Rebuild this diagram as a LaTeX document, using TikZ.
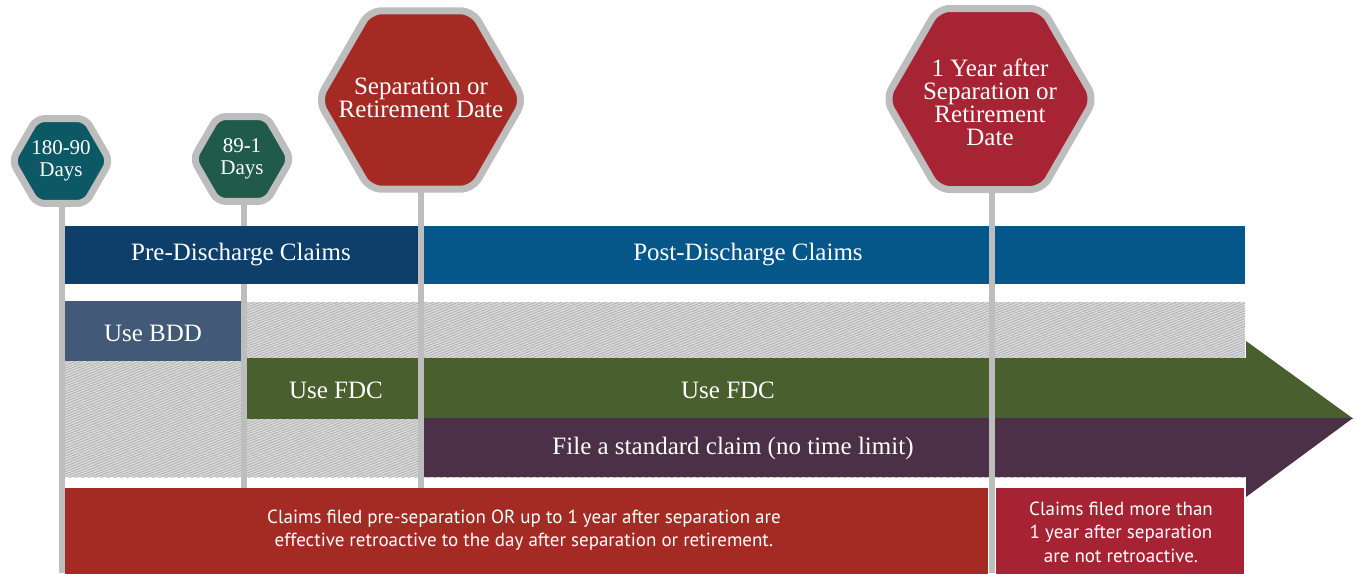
\documentclass[tikz,border=0pt]{standalone}
\usepackage{fontspec}
\setmainfont{Liberation Serif}
\newfontfamily\sansf{PT Sans}
\usetikzlibrary{shapes.geometric,patterns.meta}
\definecolor{lineg}{HTML}{BDBDBD}
\definecolor{hexteal}{HTML}{0C5864}
\definecolor{hexgreen}{HTML}{1F5A4B}
\definecolor{hexred}{HTML}{A42A23}
\definecolor{hexcrim}{HTML}{A62433}
\definecolor{prenavy}{HTML}{0E3E6A}
\definecolor{postblue}{HTML}{05578A}
\definecolor{bddblue}{HTML}{435978}
\definecolor{fdcgreen}{HTML}{4A5F2E}
\definecolor{stdpurple}{HTML}{4B3048}
\definecolor{redA}{HTML}{A32B24}
\definecolor{redB}{HTML}{A52332}
\definecolor{hatchbg}{HTML}{DADADA}
\definecolor{hatchln}{HTML}{ABABAB}
\begin{document}
\begin{tikzpicture}[x=1pt,y=-1pt,
  hexa/.style={regular polygon, regular polygon sides=6, draw=lineg, line width=7pt, rounded corners=12pt, inner sep=0pt},
  hexsmall/.style={hexa, rounded corners=8pt, minimum size=98pt},
  hextxt/.style={text=white, align=center, inner sep=0pt, font=\fontsize{25}{23}\selectfont},
  hextxts/.style={text=white, align=center, inner sep=0pt, font=\fontsize{21}{22}\selectfont},
  bar/.style={rectangle, inner sep=0pt, draw=none, anchor=north west},
  lbl/.style={text=white, inner sep=0pt, font=\fontsize{25}{27}\selectfont},
  slbl/.style={text=white, inner sep=0pt, align=center, font=\sansf\fontsize{19}{23.5}\selectfont},
  post/.style={draw=lineg, line width=6pt},
  hatch/.style={bar, fill=hatchbg, postaction={pattern={Lines[angle=22,distance=2.4pt,line width=0.7pt]}, pattern color=hatchln}}
]
\useasboundingbox (0,0) rectangle (1356,573);
% hatched background
\node[hatch, minimum width=1180pt, minimum height=175pt] (hatchA) at (65,302) {};
% coordinates for line ends
\coordinate (c1t) at (62,161);   \coordinate (c1b) at (62,573);
\coordinate (c2t) at (244,159);  \coordinate (c2b) at (244,488);
\coordinate (c3t) at (421,100);  \coordinate (c3b) at (421,488);
\coordinate (c4t) at (992,99);   \coordinate (c4b) at (992,573);
\draw[post] (c1t) -- (c1b);
\draw[post] (c2t) -- (c2b);
\draw[post] (c3t) -- (c3b);
% header bars
\node[bar, fill=prenavy, minimum width=353pt, minimum height=58pt] (pre) at (65,226) {};
\node[bar, fill=postblue, minimum width=821pt, minimum height=58pt] (postbar) at (424,226) {};
\node[lbl] (preL) at (241,254.5) {Pre-Discharge Claims};
\node[lbl] (postL) at (748,254.5) {Post-Discharge Claims};
% BDD and FDC
\node[bar, fill=bddblue, minimum width=176pt, minimum height=60pt] (bdd) at (65,301) {};
\node[lbl] (bddL) at (153,333) {Use BDD};
\node[bar, fill=fdcgreen, minimum width=171pt, minimum height=61pt] (fdc1) at (247,358) {};
\node[lbl] (fdc1L) at (336,390) {Use FDC};
% arrow
\fill[fdcgreen] (424,358) -- (1246,358) -- (1246,341) -- (1353,418.5) -- (424,418.5) -- cycle;
\fill[stdpurple] (424,418) -- (1353,418) -- (1246,497) -- (1246,477) -- (424,477) -- cycle;
\node[lbl] (fdc2L) at (728,390) {Use FDC};
\node[lbl] (stdL) at (733,448.5) {File a standard claim (no time limit)};
\draw[post] (c4t) -- (c4b);
% bottom red bars
\node[bar, fill=redA, minimum width=923pt, minimum height=86pt] (retro) at (65,488) {};
\node[bar, fill=redB, minimum width=248pt, minimum height=86pt] (noretro) at (996,488) {};
\node[slbl] (retroL) at (524,530) {Claims filed pre-separation OR up to 1 year after separation are\\effective retroactive to the day after separation or retirement.};
\node[slbl] (noretroL) at (1121,532) {Claims filed more than\\1 year after separation\\are not retroactive.};
% hexagons
\node[hexsmall, fill=hexteal] (h1) at (61,161) {};
\node[hextxts] (h1L) at (61,161) {180-90\\Days};
\node[hexsmall, fill=hexgreen] (h2) at (242,159) {};
\node[hextxts] (h2L) at (242,159) {89-1\\Days};
\node[hexa, fill=hexred, minimum size=206pt] (h3) at (421,100) {};
\node[hextxt] (h3L) at (421,98) {Separation or\\Retirement Date};
\node[hexa, fill=hexcrim, minimum size=209pt] (h4) at (990,99) {};
\node[hextxt] (h4L) at (990,102) {1 Year after\\Separation or\\Retirement\\Date};
\end{tikzpicture}
\end{document}
